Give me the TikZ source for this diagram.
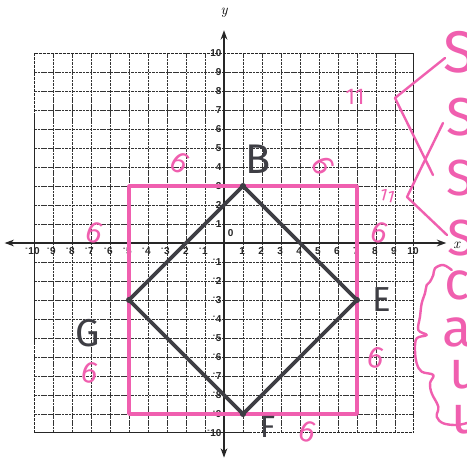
\documentclass[tikz,border=0pt]{standalone}
\usepackage{fontspec}
\newfontfamily\handfont{Fira Sans}
\newfontfamily\tickfont{Liberation Sans}
\usetikzlibrary{arrows.meta}
\definecolor{hpink}{RGB}{240,95,175}
\definecolor{dgray}{RGB}{62,62,68}
\tikzset{
  gridline/.style={black!80,line width=0.45pt,dash pattern=on 2pt off 0.6pt},
  gridedge/.style={black!85,line width=0.7pt,dash pattern=on 2.5pt off 0.5pt},
  axisline/.style={black!85,line width=1.2pt,{Stealth[length=7pt,width=5pt]}-{Stealth[length=7pt,width=5pt]}},
  ticklbl/.style={inner sep=0pt,font=\tickfont\bfseries\fontsize{7.5}{8}\selectfont,text=black!85},
  pinkline/.style={hpink,line width=2.6pt,line join=round,line cap=round},
  pinkpen/.style={hpink,line width=1.8pt,line join=round,line cap=round},
  shapeline/.style={dgray,line width=2.8pt,line join=round,line cap=round},
  handlbl/.style={inner sep=0pt,text=dgray,font=\handfont},
  pinklbl/.style={inner sep=0pt,text=hpink,font=\handfont\fontsize{23}{23}\selectfont},
  biglbl/.style={inner sep=0pt,text=hpink,anchor=west,font=\handfont}
}
\begin{document}
\begin{tikzpicture}[x=0.026316cm,y=-0.026316cm]
\useasboundingbox (0,0) rectangle (467,459);
\fill[white] (0,0) rectangle (467,459);
\begin{scope}[shift={(224,243)},x=0.5cm,y=0.5cm]
  % grid
  \foreach \i in {-9,...,9} {
    \draw[gridline] (\i,-10) -- (\i,10);
    \draw[gridline] (-10,\i) -- (10,\i);
  }
  \draw[gridedge] (-10,-10) rectangle (10,10);
  % axes
  \coordinate (xl) at (-11.55,0);
  \coordinate (xr) at (11.7,0);
  \coordinate (yb) at (0,-11.3);
  \coordinate (yt) at (0,11.2);
  \draw[axisline] (xl) -- (xr);
  \draw[axisline] (yb) -- (yt);
  \node[inner sep=0pt,font=\itshape\fontsize{11}{11}\selectfont] (xlab) at (12.25,-0.1) {x};
  \node[inner sep=0pt,font=\itshape\fontsize{11}{11}\selectfont] (ylab) at (0,12.1) {y};
  % tick labels
  \foreach \i in {1,...,10} {
    \node[ticklbl] (xp\i) at (\i-0.05,-0.42) {\i};
    \node[ticklbl] (xn\i) at (-\i-0.08,-0.42) {\textsuperscript{-}\i};
    \node[ticklbl,anchor=east] (yp\i) at (-0.12,\i) {\i};
    \node[ticklbl,anchor=east] (yn\i) at (-0.12,-\i) {\textsuperscript{-}\i};
  }
  \node[ticklbl] (zero) at (0.35,0.5) {0};
  % pink square
  \coordinate (P1) at (-5,3);
  \coordinate (P2) at (7,3);
  \coordinate (P3) at (7,-9);
  \coordinate (P4) at (-5,-9);
  \draw[pinkline] (P1) -- (P2) -- (P3) -- (P4) -- cycle;
  % diamond
  \coordinate (B) at (1,3);
  \coordinate (E) at (7,-3);
  \coordinate (F) at (1,-9);
  \coordinate (G) at (-5,-3);
  \draw[shapeline] (B) -- (E) -- (F) -- (G) -- cycle;
  \foreach \p in {B,E,F,G} \fill[dgray] (\p) circle (2.3pt);
  % vertex labels
  \node[handlbl,font=\handfont\fontsize{31}{31}\selectfont] (lB) at (1.8,4.4) {B};
  \node[handlbl,font=\handfont\fontsize{26}{26}\selectfont] (lE) at (8.3,-2.95) {E};
  \node[handlbl,font=\handfont\fontsize{23}{23}\selectfont] (lF) at (2.3,-9.7) {F};
  \node[handlbl,font=\handfont\fontsize{29}{29}\selectfont] (lG) at (-7.2,-4.75) {G};
  % pink side lengths
  \node[pinklbl,rotate=-35] (s1) at (-2.3,4.2) {6};
  \node[pinklbl,rotate=-65] (s2) at (5.2,4.05) {6};
  \node[pinklbl,rotate=-20] (s3) at (-6.8,0.55) {6};
  \node[pinklbl,rotate=-20] (s4) at (8.2,0.55) {6};
  \node[pinklbl,rotate=-15] (s5) at (8.0,-6.05) {6};
  \node[pinklbl,rotate=-15] (s6) at (-7.05,-6.85) {6};
  \node[pinklbl,rotate=-20] (s7) at (4.4,-9.95) {6};
  \node[pinklbl,font=\handfont\fontsize{17}{17}\selectfont] (m1) at (6.9,7.7) {11};
  \node[pinklbl,rotate=-15,font=\handfont\fontsize{13}{13}\selectfont] (m2) at (8.6,2.5) {11};
\end{scope}
% right-hand notes (pixel coordinates)
\node[biglbl,font=\handfont\fontsize{44}{44}\selectfont] (S1) at (443,52) {S};
\node[biglbl,font=\handfont\fontsize{40}{40}\selectfont] (S2) at (446,117) {S};
\node[biglbl,font=\handfont\fontsize{38}{38}\selectfont] (S3) at (446,178) {S};
\node[biglbl,font=\handfont\fontsize{38}{38}\selectfont] (S4) at (447,238) {S};
\node[biglbl,font=\handfont\fontsize{40}{40}\selectfont] (c1) at (444,285) {c};
\node[biglbl,font=\handfont\fontsize{40}{40}\selectfont] (a1) at (442,332) {a};
\node[biglbl,font=\handfont\fontsize{40}{40}\selectfont] (u1) at (449,375) {u};
\node[biglbl,font=\handfont\fontsize{40}{40}\selectfont] (u2) at (451,420) {u};
\coordinate (k1a) at (445,58);
\coordinate (k1b) at (395,98);
\coordinate (k1c) at (433,175);
\coordinate (k2a) at (443,123);
\coordinate (k2b) at (407,197);
\coordinate (k2c) at (447,235);
\draw[pinkpen] (k1a) -- (k1b) -- (k1c);
\draw[pinkpen] (k2a) -- (k2b) -- (k2c);
\draw[pinkpen] plot[smooth,tension=0.6] coordinates {
  (451.7,270) (443.3,265) (435,268.3) (433.3,275) (430,281.7) (426.7,285)
  (425,293.3) (421.7,303.3) (420,316.7) (418.3,330) (426.7,335) (416.7,338.3)
  (415,350) (416.7,363.3) (421.7,371.7) (433.3,375) (430,383.3) (431.7,393.3)
  (438.3,406.7) (436.7,416.7) (443.3,423.3) (456.7,425) (467,423)};
\end{tikzpicture}
\end{document}
